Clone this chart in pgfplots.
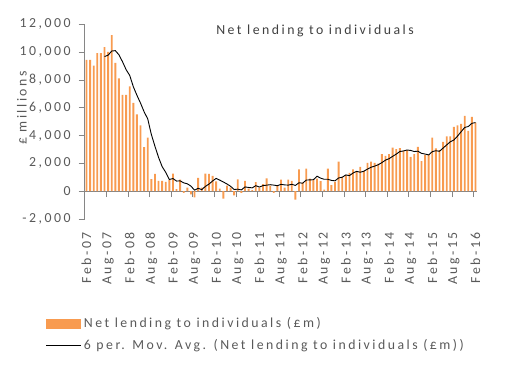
\documentclass[border=0pt]{standalone}
\usepackage{fontspec}
\setmainfont{Carlito}[LetterSpace=18]
\usepackage{pgfplots}
\pgfplotsset{compat=1.18}
\usepackage{pgfplotstable}
\definecolor{barc}{RGB}{248,155,80}
\definecolor{txt}{RGB}{89,89,89}
\definecolor{titc}{RGB}{64,64,64}
\definecolor{axc}{RGB}{134,134,134}
\newcommand\fs{\fontsize{13.8bp}{16.5bp}\selectfont}

\pgfplotstableread{
x y
0 9440
1 9440
2 9030
3 9920
4 9920
5 10350
6 10010
7 11230
8 9220
9 8120
10 6920
11 6920
12 7540
13 6350
14 5530
15 4740
16 3160
17 3860
18 860
19 1250
20 740
21 740
22 670
23 790
24 1270
25 150
26 840
27 -120
28 260
29 -230
30 -450
31 960
32 260
33 1270
34 1250
35 1100
36 700
37 190
38 -530
39 400
40 260
41 -300
42 850
43 -120
44 740
45 190
46 70
47 650
48 260
49 500
50 930
51 400
52 -120
53 400
54 840
55 260
56 840
57 750
58 -600
59 1560
60 620
61 1630
62 910
63 840
64 900
65 730
66 120
67 1630
68 430
69 670
70 2130
71 1030
72 1130
73 1320
74 1560
75 1390
76 1750
77 1460
78 2040
79 2130
80 2040
81 1990
82 2660
83 2540
84 2660
85 3140
86 3020
87 3100
88 2900
89 2950
90 2470
91 2660
92 3190
93 2160
94 2590
95 2590
96 3860
97 3070
98 2950
99 3540
100 3950
101 3950
102 4620
103 4740
104 4840
105 5410
106 4340
107 5340
108 4930
}\bars

\pgfplotstableread{
x y
5 9683
6 9778
7 10077
8 10108
9 9808
10 9308
11 8737
12 8325
13 7512
14 6897
15 6333
16 5707
17 5197
18 4083
19 3233
20 2435
21 1768
22 1353
23 842
24 910
25 727
26 743
27 600
28 532
29 362
30 75
31 210
32 113
33 345
34 510
35 732
36 923
37 795
38 663
39 518
40 353
41 120
42 145
43 93
44 305
45 270
46 238
47 397
48 298
49 402
50 433
51 468
52 437
53 395
54 492
55 452
56 437
57 495
58 415
59 608
60 572
61 800
62 812
63 827
64 1077
65 938
66 855
67 855
68 775
69 747
70 952
71 1002
72 1170
73 1118
74 1307
75 1427
76 1363
77 1435
78 1587
79 1722
80 1802
81 1902
82 2053
83 2233
84 2337
85 2505
86 2668
87 2853
88 2893
89 2962
90 2930
91 2850
92 2878
93 2722
94 2670
95 2610
96 2842
97 2910
98 2870
99 3100
100 3327
101 3553
102 3680
103 3958
104 4273
105 4585
106 4650
107 4882
108 4933
}\mavg

\begin{document}
\begin{tikzpicture}
\path[use as bounding box] (0,0) rectangle (511bp,-369bp);
\begin{axis}[
  at={(84.7bp,-219bp)}, anchor=south west,
  scale only axis, width=392.6bp, height=194.7bp,
  xmin=-0.5, xmax=108.5, ymin=-2000, ymax=12000,
  axis x line=middle, axis y line=left,
  x axis line style={-, draw=axc, line width=0.8bp},
  y axis line style={-, draw=axc, line width=0.8bp},
  hide obscured x ticks=false, hide obscured y ticks=false,
  tick align=outside,
  major tick length=6bp, minor tick length=6bp,
  xtick={0,6,...,108},
  xticklabels={Feb-07,Aug-07,Feb-08,Aug-08,Feb-09,Aug-09,Feb-10,Aug-10,Feb-11,Aug-11,Feb-12,Aug-12,Feb-13,Aug-13,Feb-14,Aug-14,Feb-15,Aug-15,Feb-16},
  major x tick style={draw=none},
  minor xtick={5.5,11.5,17.5,23.5,29.5,35.5,41.5,47.5,53.5,59.5,65.5,71.5,77.5,83.5,89.5,95.5,101.5,107.5},
  minor x tick style={draw=axc, line width=0.8bp},
  ytick={-2000,0,2000,4000,6000,8000,10000,12000},
  major y tick style={draw=axc, line width=0.8bp},
  scaled y ticks=false,
  /pgf/number format/1000 sep={,},
  /pgf/number format/assume math mode=true,
  yticklabel style={font=\fs, text=txt, inner sep=0pt, anchor=east, xshift=-8bp},
  xticklabel style={font=\fs, text=txt, inner sep=0pt, rotate=90, anchor=east},
  xticklabel shift=35bp,
  ylabel={£ millions},
  every axis y label/.style={at={(axis description cs:-0.16,0.57)}, rotate=90, anchor=center, font=\fs, text=txt},
  title={Net lending to individuals},
  every axis title/.style={at={(axis description cs:0.5866,0.9656)}, anchor=center, font=\fs, text=titc},
  clip=false,
  legend style={at={(axis description cs:-0.0986,-0.497)}, anchor=north west, draw=none, fill=none,
    inner sep=0pt, outer sep=0pt, font=\fs, text=txt, row sep=6bp, nodes={inner sep=2bp}},
  legend cell align=left,
]
\addplot[ybar, bar width=0.52, fill=barc, draw=none,
  legend image code/.code={\fill[barc] (0bp,-5bp) rectangle (35bp,5bp);}]
  table[x=x,y=y]{\bars};
\addlegendentry{Net lending to individuals (£m)}
\addplot[black, line width=0.9bp, mark=none,
  legend image code/.code={\draw[black, line width=0.9bp] (0bp,0bp) -- (35bp,0bp);}]
  table[x=x,y=y]{\mavg};
\addlegendentry{6 per. Mov. Avg. (Net lending to individuals (£m))}
\end{axis}
\end{tikzpicture}
\end{document}
